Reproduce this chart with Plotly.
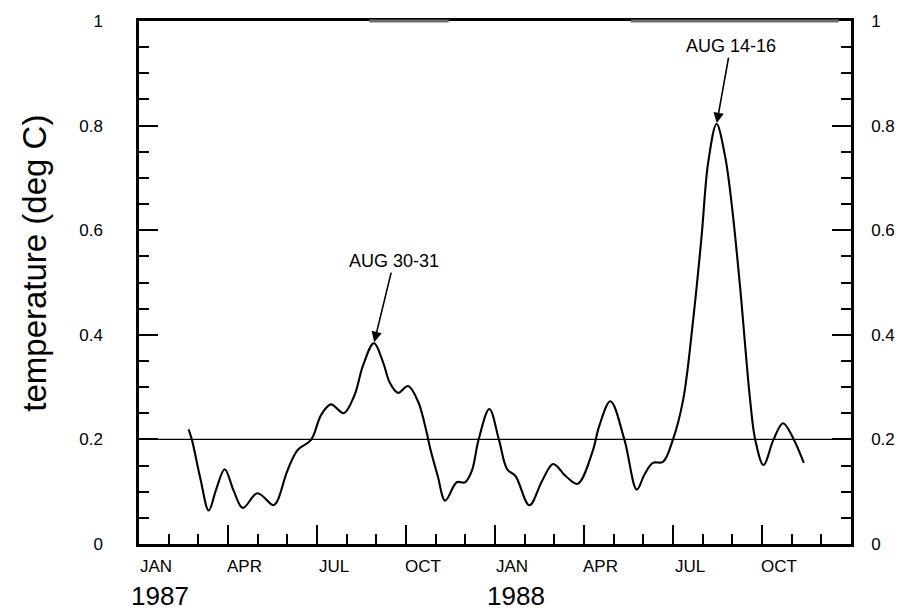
import plotly.graph_objects as go

# Months since Jan 1987 and smoothed temperature anomaly (deg C)
months = [1.67, 1.78, 2.07, 2.35, 2.61, 2.89, 3.19, 3.50, 3.99, 4.53, 4.67, 5.00,
          5.35, 5.80, 6.14, 6.47, 6.90, 7.26, 7.55, 7.92, 8.23, 8.45, 8.73, 9.07,
          9.41, 9.69, 9.81, 10.07, 10.32, 10.71, 10.99, 11.22, 11.45, 11.81, 12.13,
          12.41, 12.69, 13.16, 13.59, 13.96, 14.38, 14.78, 15.29, 15.51, 15.89,
          16.36, 16.78, 17.04, 17.32, 17.66, 18.00, 18.34, 18.68, 18.96, 19.19,
          19.47, 19.75, 19.98, 20.26, 20.60, 20.77, 21.05, 21.39, 21.71, 22.07, 22.41]
temps = [0.219, 0.200, 0.125, 0.064, 0.106, 0.143, 0.102, 0.069, 0.097, 0.074, 0.083, 0.140,
         0.180, 0.199, 0.247, 0.267, 0.250, 0.284, 0.341, 0.384, 0.347, 0.309, 0.289, 0.302,
         0.272, 0.215, 0.184, 0.130, 0.083, 0.118, 0.118, 0.140, 0.200, 0.258, 0.200,
         0.143, 0.130, 0.074, 0.121, 0.153, 0.130, 0.115, 0.177, 0.225, 0.273,
         0.200, 0.104, 0.133, 0.155, 0.157, 0.200, 0.275, 0.429, 0.586, 0.731,
         0.803, 0.743, 0.649, 0.492, 0.275, 0.200, 0.151, 0.200, 0.231, 0.200, 0.155]

reference_level = 0.2

# Quarterly labels along the time axis
quarter_months = [0, 3, 6, 9, 12, 15, 18, 21]
quarter_labels = ["JAN", "APR", "JUL", "OCT", "JAN", "APR", "JUL", "OCT"]
year_months = [0, 12]
year_labels = ["1987", "1988"]

y_ticks = [0, 0.2, 0.4, 0.6, 0.8, 1.0]
y_ticktext = ["0", "0.2", "0.4", "0.6", "0.8", "1"]

y_title = "temperature (deg C)"

# Events marked with arrows: (label, window of months containing the peak, arrow offsets)
events = [("AUG 30-31", (7.0, 9.0), 20, -82), ("AUG 14-16", (18.5, 20.5), 14, -78)]

FONT = "Arial, Liberation Sans, Helvetica, sans-serif"

fig = go.Figure()

fig.add_trace(go.Scatter(
    x=months, y=temps, mode="lines",
    line=dict(color="black", width=2.1, shape="spline", smoothing=1.0),
    hoverinfo="skip", showlegend=False,
))

fig.add_trace(go.Scatter(
    x=[0, 24], y=[reference_level, reference_level], mode="lines", yaxis="y2",
    line=dict(color="black", width=1.2), hoverinfo="skip", showlegend=False,
))

annotations = []
for m, lab in zip(quarter_months, quarter_labels):
    annotations.append(dict(
        x=m + 0.56, y=-0.0434, xref="x", yref="paper", text=lab, showarrow=False,
        xanchor="center", yanchor="middle", font=dict(family=FONT, size=17, color="black"),
    ))
for m, lab in zip(year_months, year_labels):
    annotations.append(dict(
        x=m + 0.72, y=-0.10, xref="x", yref="paper", text=lab, showarrow=False,
        xanchor="center", yanchor="middle", font=dict(family=FONT, size=26, color="black"),
    ))

for label, (lo, hi), ax, ay in events:
    idx = [i for i, m in enumerate(months) if lo <= m <= hi]
    k = max(idx, key=lambda i: temps[i])
    annotations.append(dict(
        x=months[k], y=temps[k], xref="x", yref="y", text=label,
        showarrow=True, arrowhead=2, arrowsize=1.3, arrowwidth=1.6, arrowcolor="black",
        ax=ax, ay=ay, standoff=1, font=dict(family=FONT, size=18, color="black"),
    ))

annotations.append(dict(
    x=-0.146, y=0.536, xref="paper", yref="paper", text=y_title,
    textangle=-90, showarrow=False, xanchor="center", yanchor="middle",
    font=dict(family=FONT, size=33, color="black"),
))

# Faded stretches along the top frame line
shapes = [
    dict(type="line", xref="x", yref="paper", x0=7.76, x1=10.44, y0=1, y1=1,
         line=dict(color="#6e6e6e", width=3), layer="above"),
    dict(type="line", xref="x", yref="paper", x0=16.58, x1=23.59, y0=1, y1=1,
         line=dict(color="#6e6e6e", width=3), layer="above"),
]

yaxis_common = dict(
    range=[0, 1], tickvals=y_ticks, ticktext=y_ticktext,
    ticks="inside", ticklen=19, tickwidth=2.2, tickcolor="black",
    showline=True, linecolor="black", linewidth=2.5,
    showgrid=False, zeroline=False, fixedrange=True,
    tickfont=dict(family=FONT, size=17, color="black"),
    minor=dict(ticks="inside", ticklen=10, tickwidth=2.2, tickcolor="black",
               dtick=0.05, tick0=0, showgrid=False),
)

fig.update_layout(
    width=908, height=615,
    margin=dict(l=139, r=57, t=14, b=71),
    paper_bgcolor="white", plot_bgcolor="white",
    xaxis=dict(
        range=[0, 24], tickvals=quarter_months, showticklabels=False,
        ticks="inside", ticklen=19, tickwidth=2.2, tickcolor="black",
        showline=True, linecolor="black", linewidth=2.5, mirror=True,
        showgrid=False, zeroline=False, fixedrange=True,
        minor=dict(ticks="inside", ticklen=10, tickwidth=2.2, tickcolor="black",
                   dtick=1, tick0=0, showgrid=False),
    ),
    yaxis=dict(**yaxis_common, side="left", ticklabelstandoff=30),
    yaxis2=dict(**yaxis_common, side="right", overlaying="y", ticklabelstandoff=14),
    annotations=annotations,
    shapes=shapes,
    showlegend=False,
)

fig.write_html("out.html")
